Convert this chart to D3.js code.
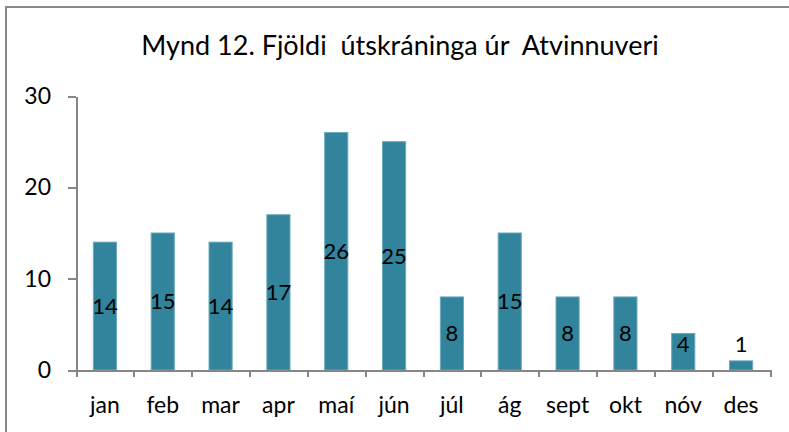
<!DOCTYPE html>
<meta charset="utf-8">
<style>
body {
  margin: 0;
  background-color: #ffffff;
}
.frame {
  position: absolute;
  left: 5px;
  top: 6px;
  width: 800px;
  height: 440px;
  border-left: 2px solid #888888;
  border-top: 2px solid #888888;
}
svg {
  position: absolute;
  left: 0;
  top: 0;
}
.axis text {
  font: 23px Lato, "Open Sans", sans-serif;
  fill: #000;
}
.axis path,
.axis line {
  fill: none;
  stroke: #868686;
  stroke-width: 2px;
  shape-rendering: crispEdges;
}
</style>
<body>
<div class="frame"></div>
<script src="https://d3js.org/d3.v7.min.js"></script>
<script>
  // data
  var months = ["jan", "feb", "mar", "apr", "maí", "jún", "júl", "ág", "sept", "okt", "nóv", "des"];
  var counts = [14, 15, 14, 17, 26, 25, 8, 15, 8, 8, 4, 1];
  var yTicks = [0, 10, 20, 30];
  var title = "Mynd 12. Fjöldi  útskráninga úr  Atvinnuveri";

  var data = months.map(function(m, i) { return {month: m, value: counts[i]}; });

  var svg = d3.select("body").append("svg")
      .attr("width", 789)
      .attr("height", 432);

  // plot area
  var plot = {left: 76, right: 770, top: 96, bottom: 370};

  var x = d3.scaleBand()
            .domain(months)
            .range([plot.left, plot.right])
            .paddingInner(0.6)
            .paddingOuter(0.3);
  var y = d3.scaleLinear()
            .domain([0, 30])
            .range([plot.bottom, plot.top]);

  svg.append("text")
      .attr("x", 400)
      .attr("y", 55)
      .attr("text-anchor", "middle")
      .style("font", "27px Lato, 'Open Sans', sans-serif")
      .style("white-space", "pre")
      .text(title);

  // bars
  svg.selectAll(".bar")
      .data(data)
    .enter().append("rect")
      .attr("class", "bar")
      .attr("x", function(d) { return x(d.month); })
      .attr("width", x.bandwidth())
      .attr("y", function(d) { return y(d.value); })
      .attr("height", function(d) { return plot.bottom - y(d.value); })
      .attr("fill", "#31849B")
      .attr("stroke", "#6aaabb")
      .attr("stroke-width", 1);

  // x axis with ticks at band edges
  var band = d3.scaleLinear().domain([0, months.length]).range([plot.left, plot.right]);
  var xAxis = svg.append("g")
      .attr("class", "axis")
      .attr("transform", "translate(0," + plot.bottom + ")");
  xAxis.call(d3.axisBottom(band).tickValues(d3.range(months.length + 1)).tickSize(7).tickSizeOuter(0).tickFormat(""));
  xAxis.selectAll(".cat")
      .data(months)
    .enter().append("text")
      .attr("class", "cat")
      .attr("x", function(d) { return x(d) + x.bandwidth() / 2; })
      .attr("y", 43)
      .attr("text-anchor", "middle")
      .text(function(d) { return d; });

  // y axis
  svg.append("g")
      .attr("class", "axis")
      .attr("transform", "translate(" + plot.left + ",0)")
      .call(d3.axisLeft(y).tickValues(yTicks).tickSize(8).tickSizeOuter(0).tickPadding(17));

  // value labels
  svg.selectAll(".lbl")
      .data(data)
    .enter().append("text")
      .attr("class", "lbl")
      .attr("x", function(d) { return x(d.month) + x.bandwidth() / 2; })
      .attr("y", function(d) { return Math.min(y(d.value / 2), y(2.8)); })
      .attr("dy", "0.35em")
      .attr("text-anchor", "middle")
      .style("font", "22px Lato, 'Open Sans', sans-serif")
      .text(function(d) { return d.value; });
</script>
</body>
